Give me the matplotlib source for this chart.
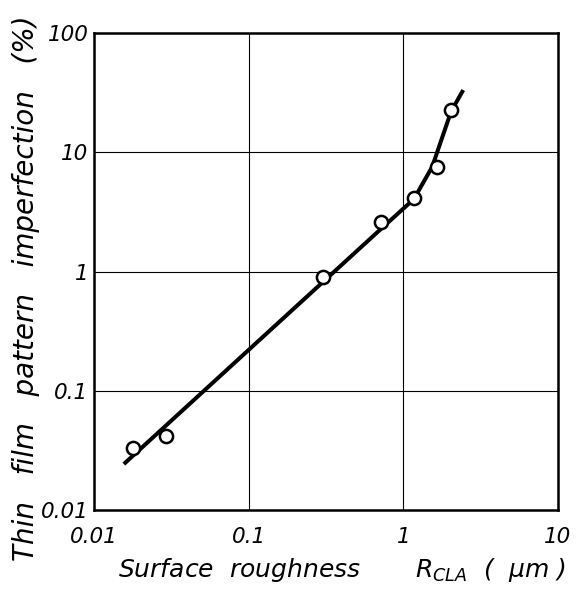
import matplotlib
matplotlib.use('Agg')
import matplotlib.pyplot as plt

# Measured points (circles)
rough_pts = [0.0178, 0.0291, 0.302, 0.72, 1.17, 1.65, 2.04]
imperf_pts = [0.0331, 0.0418, 0.90, 2.61, 4.17, 7.59, 22.6]

# Fitted curve
rough_fit = [0.0156, 0.74, 1.17, 1.535, 2.04, 2.44]
imperf_fit = [0.0243, 2.37, 4.06, 7.55, 22.2, 33.4]

x_ticks = [0.01, 0.1, 1, 10]
x_tick_labels = ['0.01', '0.1', '1', '10']
y_ticks = [0.01, 0.1, 1, 10, 100]
y_tick_labels = ['0.01', '0.1', '1', '10', '100']

plt.rcParams['font.family'] = ['DejaVu Sans']
plt.rcParams['mathtext.fontset'] = 'dejavusans'

fig = plt.figure(figsize=(5.79, 5.89), dpi=100)
ax = fig.add_axes([0.1623, 0.1341, 0.8014, 0.8094])

ax.set_xscale('log')
ax.set_yscale('log')
ax.set_xlim(0.01, 10)
ax.set_ylim(0.01, 100)

ax.plot(rough_fit, imperf_fit, color='black', lw=2.9, solid_capstyle='butt', zorder=3)
ax.plot(rough_pts, imperf_pts, linestyle='none', marker='o', ms=9.5,
        mfc='white', mec='black', mew=1.8, zorder=4)

ax.set_xticks(x_ticks)
ax.set_xticklabels(x_tick_labels)
ax.set_yticks(y_ticks)
ax.set_yticklabels(y_tick_labels)
ax.minorticks_off()
ax.tick_params(axis='both', length=0, labelsize=15.5)
ax.tick_params(axis='x', pad=12)
ax.tick_params(axis='y', pad=4)
for lbl in ax.get_xticklabels() + ax.get_yticklabels():
    lbl.set_fontstyle('italic')

ax.grid(True, which='major', color='black', lw=0.8)
for sp in ax.spines.values():
    sp.set_linewidth(1.8)

ax.set_xlabel('Surface  roughness       $R_{CLA}$  (  $\\mu$m )', fontsize=18,
              fontstyle='italic')
ax.xaxis.set_label_coords(0.535, -0.097)
ax.set_ylabel('Thin   film   pattern   imperfection   (%)', fontsize=20,
              fontstyle='italic')
ax.yaxis.set_label_coords(-0.116, 0.465)

fig.savefig('out.png', dpi=100)
